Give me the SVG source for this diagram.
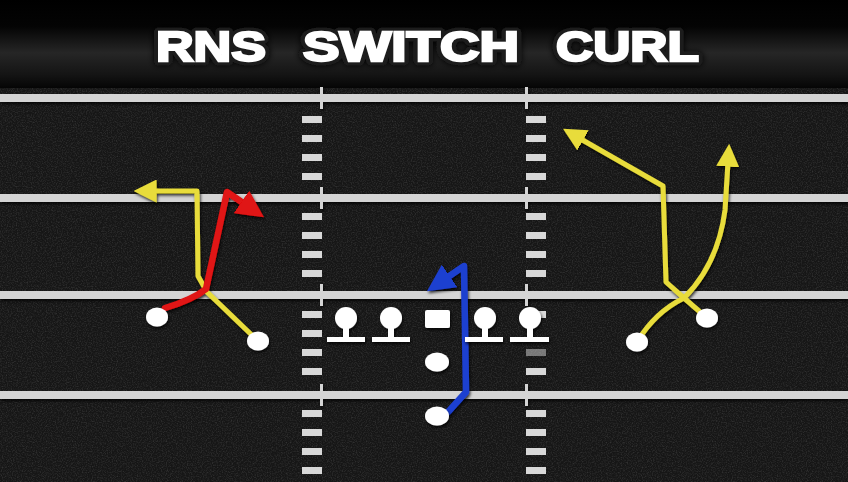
<svg xmlns="http://www.w3.org/2000/svg" width="848" height="482" viewBox="0 0 848 482">
<defs>
<linearGradient id="banner" x1="0" y1="0" x2="0" y2="1">
<stop offset="0" stop-color="#000"/>
<stop offset="0.3" stop-color="#040404"/>
<stop offset="0.6" stop-color="#262626"/>
<stop offset="0.85" stop-color="#141414"/>
<stop offset="1" stop-color="#050505"/>
</linearGradient>
<filter id="noise" x="0" y="0" width="100%" height="100%">
<feTurbulence type="fractalNoise" baseFrequency="0.8" numOctaves="2" seed="3" result="t"/>
<feColorMatrix in="t" type="matrix" values="0 0 0 0 0.3  0 0 0 0 0.3  0 0 0 0 0.3  0 0 0 1.2 -0.5"/>
</filter>
<filter id="shadow" x="-20%" y="-20%" width="140%" height="140%">
<feDropShadow dx="1" dy="2" stdDeviation="1.5" flood-color="#000" flood-opacity="0.8"/>
</filter>
<filter id="glow" x="-10%" y="-30%" width="120%" height="160%">
<feDropShadow dx="0" dy="0" stdDeviation="3" flood-color="#000" flood-opacity="1"/>
</filter>
<marker id="ayel" viewBox="0 0 10 10" refX="2" refY="5" markerWidth="4.6" markerHeight="4.6" orient="auto" markerUnits="strokeWidth">
<path d="M0,0 L10,5 L0,10 Z" fill="#e8dc3a"/>
</marker>
<marker id="ared" viewBox="0 0 10 10" refX="2" refY="5" markerWidth="4.2" markerHeight="4.2" orient="auto" markerUnits="strokeWidth">
<path d="M0,0 L10,5 L0,10 Z" fill="#e01212"/>
</marker>
<marker id="ablu" viewBox="0 0 10 10" refX="2" refY="5" markerWidth="4.2" markerHeight="4.2" orient="auto" markerUnits="strokeWidth">
<path d="M0,0 L10,5 L0,10 Z" fill="#1f3fd0"/>
</marker>
<style>
.yl{fill:#d4d4d4}
.hm{fill:#d8d8d8}
.tk{fill:#d4d4d4}
.pl{fill:#fff}
.rt{fill:none;stroke-width:5;stroke-linecap:round;stroke-linejoin:round}
.yel{stroke:#e8dc3a}
.red{stroke:#e01212;stroke-width:6.5}
.blu{stroke:#1f3fd0;stroke-width:6.5}
.tback{font-family:"Liberation Sans",Arial,sans-serif;font-weight:bold;font-size:42px;fill:#fff;stroke:#1c1c1c;stroke-width:9;stroke-linejoin:round}
.tfront{font-family:"Liberation Sans",Arial,sans-serif;font-weight:bold;font-size:42px;fill:#fff;stroke:#fff;stroke-width:2.4;stroke-linejoin:miter}
</style>
</defs>

<!-- field -->
<rect x="0" y="86" width="848" height="396" fill="#161616"/>
<rect x="0" y="86" width="848" height="396" filter="url(#noise)" opacity="0.4"/>

<!-- banner -->
<rect x="0" y="0" width="848" height="88" fill="url(#banner)"/>
<g id="title" filter="url(#glow)">
<text class="tback" x="156" y="61" textLength="110" lengthAdjust="spacingAndGlyphs">RNS</text>
<text class="tback" x="303" y="61" textLength="216" lengthAdjust="spacingAndGlyphs">SWITCH</text>
<text class="tback" x="556" y="61" textLength="143" lengthAdjust="spacingAndGlyphs">CURL</text>
<text class="tfront" x="156" y="61" textLength="110" lengthAdjust="spacingAndGlyphs">RNS</text>
<text class="tfront" x="303" y="61" textLength="216" lengthAdjust="spacingAndGlyphs">SWITCH</text>
<text class="tfront" x="556" y="61" textLength="143" lengthAdjust="spacingAndGlyphs">CURL</text>
</g>

<!-- yard lines -->
<g id="yardlines" filter="url(#shadow)">
<rect class="yl" x="0" y="94" width="848" height="8"/>
<rect class="yl" x="0" y="194" width="848" height="8"/>
<rect class="yl" x="0" y="291" width="848" height="8"/>
<rect class="yl" x="0" y="391" width="848" height="8"/>
<rect class="tk" x="320" y="87" width="3" height="22"/>
<rect class="tk" x="525" y="87" width="3" height="22"/>
<rect class="tk" x="320" y="187" width="3" height="22"/>
<rect class="tk" x="525" y="187" width="3" height="22"/>
<rect class="tk" x="320" y="284" width="3" height="22"/>
<rect class="tk" x="525" y="284" width="3" height="22"/>
<rect class="tk" x="320" y="384" width="3" height="22"/>
<rect class="tk" x="525" y="384" width="3" height="22"/>
</g>

<!-- hash marks -->
<g id="hashmarks">
<rect class="hm" x="302" y="116" width="20" height="7"/><rect class="hm" x="526" y="116" width="20" height="7"/>
<rect class="hm" x="302" y="135" width="20" height="7"/><rect class="hm" x="526" y="135" width="20" height="7"/>
<rect class="hm" x="302" y="154" width="20" height="7"/><rect class="hm" x="526" y="154" width="20" height="7"/>
<rect class="hm" x="302" y="173" width="20" height="7"/><rect class="hm" x="526" y="173" width="20" height="7"/>
<rect class="hm" x="302" y="213" width="20" height="7"/><rect class="hm" x="526" y="213" width="20" height="7"/>
<rect class="hm" x="302" y="232" width="20" height="7"/><rect class="hm" x="526" y="232" width="20" height="7"/>
<rect class="hm" x="302" y="251" width="20" height="7"/><rect class="hm" x="526" y="251" width="20" height="7"/>
<rect class="hm" x="302" y="270" width="20" height="7"/><rect class="hm" x="526" y="270" width="20" height="7"/>
<rect class="hm" x="302" y="311" width="20" height="7"/><rect class="hm" x="526" y="311" width="20" height="7"/>
<rect class="hm" x="302" y="330" width="20" height="7"/><rect class="hm" x="526" y="349" width="20" height="7" opacity="0.5"/>
<rect class="hm" x="302" y="349" width="20" height="7"/>
<rect class="hm" x="302" y="368" width="20" height="7"/><rect class="hm" x="526" y="368" width="20" height="7"/>
<rect class="hm" x="302" y="410" width="20" height="7"/><rect class="hm" x="526" y="410" width="20" height="7"/>
<rect class="hm" x="302" y="429" width="20" height="7"/><rect class="hm" x="526" y="429" width="20" height="7"/>
<rect class="hm" x="302" y="448" width="20" height="7"/><rect class="hm" x="526" y="448" width="20" height="7"/>
<rect class="hm" x="302" y="467" width="20" height="7"/><rect class="hm" x="526" y="467" width="20" height="7"/>
</g>

<!-- routes -->
<g id="routes" filter="url(#shadow)">
<path class="rt yel" d="M258,341 L207,292 L198,276 L197,191 L152,191" marker-end="url(#ayel)"/>
<path class="rt red" d="M165,308 Q192,300 206,289 L227,192 L246,205" marker-end="url(#ared)"/>
<path class="rt blu" d="M448,412 L466,392 L464,266 L445,279" marker-end="url(#ablu)"/>
<path class="rt yel" d="M707,318 L684,298 L666,282 L663,186 L579,138" marker-end="url(#ayel)"/>
<path class="rt yel" d="M637,342 Q655,312 684,298 Q718,264 725,210 L728,162" marker-end="url(#ayel)"/>
</g>

<!-- players -->
<g id="wr-left-1" filter="url(#shadow)"><ellipse class="pl" cx="157" cy="317" rx="11" ry="9.5"/></g>
<g id="wr-left-2" filter="url(#shadow)"><ellipse class="pl" cx="258" cy="341" rx="11" ry="9.5"/></g>
<g id="lt" filter="url(#shadow)"><circle class="pl" cx="346" cy="318" r="11"/><rect class="pl" x="343" y="324" width="6" height="14"/><rect class="pl" x="327" y="337" width="38" height="5"/></g>
<g id="lg" filter="url(#shadow)"><circle class="pl" cx="391" cy="318" r="11"/><rect class="pl" x="388" y="324" width="6" height="14"/><rect class="pl" x="372" y="337" width="38" height="5"/></g>
<g id="c" filter="url(#shadow)"><rect class="pl" x="425" y="310" width="25" height="18" rx="2"/></g>
<g id="rg" filter="url(#shadow)"><circle class="pl" cx="485" cy="318" r="11"/><rect class="pl" x="482" y="324" width="6" height="14"/><rect class="pl" x="465" y="337" width="38" height="5"/></g>
<g id="rt" filter="url(#shadow)"><circle class="pl" cx="530" cy="318" r="11"/><rect class="pl" x="527" y="324" width="6" height="14"/><rect class="pl" x="510" y="337" width="39" height="5"/></g>
<g id="qb" filter="url(#shadow)"><ellipse class="pl" cx="437" cy="362" rx="12" ry="9.5"/></g>
<g id="rb" filter="url(#shadow)"><ellipse class="pl" cx="437" cy="416" rx="12" ry="9.5"/></g>
<g id="wr-right-1" filter="url(#shadow)"><ellipse class="pl" cx="637" cy="342" rx="11" ry="9.5"/></g>
<g id="wr-right-2" filter="url(#shadow)"><ellipse class="pl" cx="707" cy="318" rx="11" ry="9.5"/></g>
</svg>
